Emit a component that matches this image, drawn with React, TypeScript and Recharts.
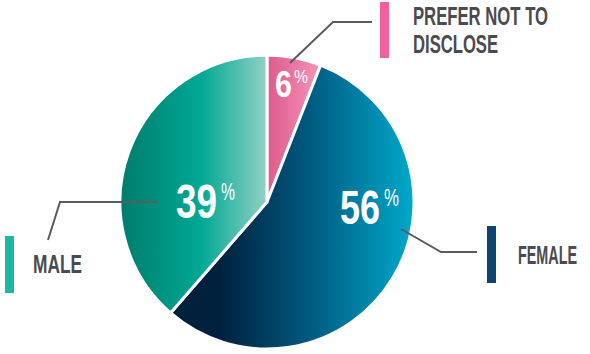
import React from 'react';
import { PieChart, Pie, Cell } from 'recharts';

const CATEGORIES = ['PREFER NOT TO DISCLOSE', 'FEMALE', 'MALE'];
const VALUES = [6, 56, 39];
const LEGEND_LINES = [['PREFER NOT TO', 'DISCLOSE'], ['FEMALE'], ['MALE']];
const SWATCH_COLORS = ['#f2619b', '#0b4670', '#1bb9a3'];
const GRADIENTS = [
  [['0%', '#de5a8b'], ['100%', '#f595b8']],
  [['0%', '#00203c'], ['20%', '#00213d'], ['55%', '#00567c'], ['100%', '#00a9cb']],
  [['0%', '#007c6c'], ['55%', '#00a892'], ['100%', '#92d1c6']],
];

const data = CATEGORIES.map((name, i) => ({ name, value: VALUES[i] }));

// layout offsets relative to the pie centre
const LAYOUT = [
  {
    leader: [[23, -139], [66, -180], [105, -180]],
    swatch: [113, -200, 9, 56],
    text: [[146, -177, 135], [146, -149, 85]],
    num: { x: 8, y: -105, len: 17, fs: 37, px: 27, py: -119, plen: 14, pfs: 18 },
  },
  {
    leader: [[134, 27], [174, 50], [210, 50]],
    swatch: [220, 24, 9, 57],
    text: [[251, 62, 59]],
    num: { x: 73, y: 22, len: 40, fs: 49, px: 117, py: 4, plen: 15, pfs: 23 },
  },
  {
    leader: [[-110, 0], [-207, 0], [-219, 38]],
    swatch: [-262, 34, 9, 57],
    text: [[-234, 71, 49]],
    num: { x: -91, y: 16, len: 41, fs: 49, px: -46, py: -2, plen: 14, pfs: 23 },
  },
];

const FONT = '"Liberation Sans", Arial, sans-serif';
const LEGEND_SX = 0.62;
const NUM_SX = 0.8;

const Squeezed = ({ x, y, len, sx, fs, weight, fill, children }: any) => (
  <text
    transform={`translate(${x},${y}) scale(${sx},1)`}
    x={0}
    y={0}
    textLength={len / sx}
    lengthAdjust="spacingAndGlyphs"
    fontFamily={FONT}
    fontWeight={weight}
    fontSize={fs}
    fill={fill}
  >
    {children}
  </text>
);

const renderLabel = (props: any) => {
  const { cx, cy, index, value } = props;
  const L = LAYOUT[index];
  const pts = L.leader.map(([dx, dy]) => `${cx + dx},${cy + dy}`).join(' ');
  const [sx, sy, sw, sh] = L.swatch;
  const n = L.num;
  return (
    <g key={`lbl-${index}`}>
      <polyline points={pts} fill="none" stroke="#5a5a62" strokeWidth={2} />
      <rect x={cx + sx} y={cy + sy} width={sw} height={sh} fill={SWATCH_COLORS[index]} />
      {LEGEND_LINES[index].map((line, j) => (
        <Squeezed
          key={j}
          x={cx + L.text[j][0]}
          y={cy + L.text[j][1]}
          len={L.text[j][2]}
          sx={LEGEND_SX}
          fs={25}
          weight={700}
          fill="#4a4a4f"
        >
          {line}
        </Squeezed>
      ))}
      <Squeezed x={cx + n.x} y={cy + n.y} len={n.len} sx={NUM_SX} fs={n.fs} weight={700} fill="#ffffff">
        {value}
      </Squeezed>
      <Squeezed x={cx + n.px} y={cy + n.py} len={n.plen} sx={NUM_SX} fs={n.pfs} weight={400} fill="#ffffff">
        %
      </Squeezed>
    </g>
  );
};

export default function App() {
  return (
    <div style={{ position: 'absolute', left: 0, top: 0, width: 590, height: 354, background: '#fff' }}>
      <PieChart width={590} height={354} margin={{ top: 0, right: 0, bottom: 0, left: 0 }}>
        <defs>
          {GRADIENTS.map((stops, i) => (
            <linearGradient key={i} id={`grad${i}`} x1="0" y1="0" x2="1" y2="0">
              {stops.map(([off, col], j) => (
                <stop key={j} offset={off} stopColor={col} />
              ))}
            </linearGradient>
          ))}
        </defs>
        <Pie
          data={data}
          dataKey="value"
          nameKey="name"
          cx={267}
          cy={202}
          innerRadius={0}
          outerRadius={147}
          startAngle={90}
          endAngle={-270}
          stroke="#ffffff"
          strokeWidth={3}
          label={renderLabel}
          labelLine={false}
          isAnimationActive={false}
        >
          {data.map((d, i) => (
            <Cell key={d.name} fill={`url(#grad${i})`} />
          ))}
        </Pie>
      </PieChart>
    </div>
  );
}
